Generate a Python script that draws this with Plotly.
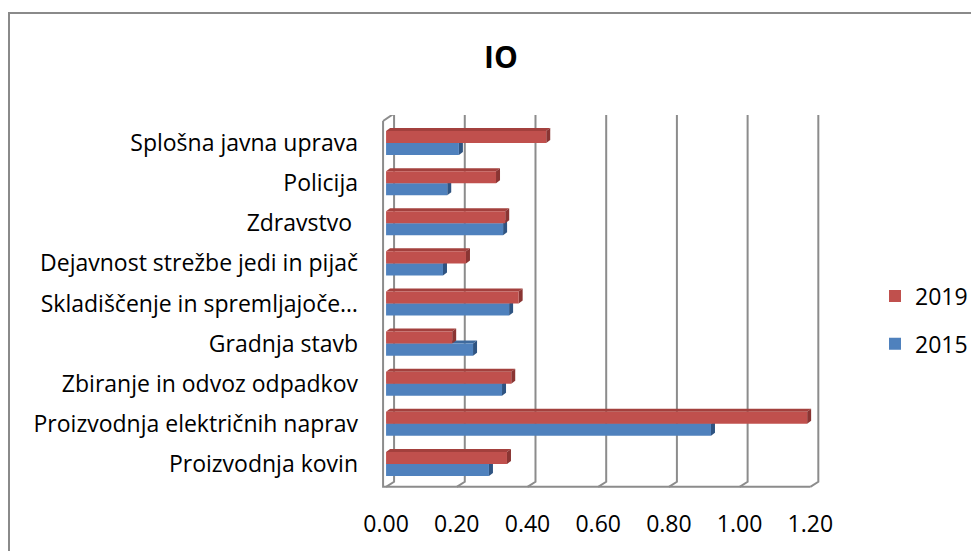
import plotly.graph_objects as go

# ---------------- data ----------------
categories = [
    "Proizvodnja kovin",
    "Proizvodnja električnih naprav",
    "Zbiranje in odvoz odpadkov",
    "Gradnja stavb",
    "Skladiščenje in spremljajoče…",
    "Dejavnost strežbe jedi in pijač",
    "Zdravstvo ",
    "Policija",
    "Splošna javna uprava",
]
v2015 = [0.291, 0.919, 0.328, 0.246, 0.348, 0.161, 0.331, 0.173, 0.206]
v2019 = [0.342, 1.191, 0.354, 0.187, 0.375, 0.226, 0.337, 0.311, 0.453]
tick_vals = [0.0, 0.2, 0.4, 0.6, 0.8, 1.0, 1.2]

# ---------------- style ----------------
# the page body has an 8px margin, so the figure is a bit smaller than the window
OFF = 8
W, H = 979 - OFF, 551 - OFF
ML, MR, MT, MB = 379 - OFF, 151, 115 - OFF, 63
XR = [-0.02, 1.25]
YR = [-0.6, 8.7]
PXX = (W - ML - MR) / (XR[1] - XR[0])   # px per x unit
PXY = (H - MT - MB) / (YR[1] - YR[0])   # px per category

RED, RED_TOP, RED_SIDE = "#C0504D", "#A3403D", "#8A3533"
BLUE, BLUE_TOP, BLUE_SIDE = "#4F81BD", "#3E6A9E", "#2F5482"
GRID = "#8C8C8C"
FONT = "'Open Sans', Calibri, sans-serif"

BARGAP = 0.4
BW = (1 - BARGAP) / 2
# depth of walls and bars (pixels -> data units)
WX, WY = 8 / PXX, 5 / PXY
BX, BY = 4 / PXX, 3 / PXY
FLOOR = -0.57
TOP_FRONT = 8.55
TOP_BACK = TOP_FRONT + 2.5 / PXY + WY

fig = go.Figure()
fig.add_trace(go.Bar(y=categories, x=v2015, name="2015", orientation="h",
                     marker=dict(color=BLUE, line=dict(width=0)),
                     legendgroup="a", legendrank=2))
fig.add_trace(go.Bar(y=categories, x=v2019, name="2019", orientation="h",
                     marker=dict(color=RED, line=dict(width=0)),
                     legendgroup="b", legendrank=1))

shapes = []
line = dict(color=GRID, width=2)
# back wall gridlines with a diagonal down to the front floor
for v in tick_vals:
    shapes.append(dict(type="path", xref="x", yref="y", layer="below", line=line,
                       path=f"M{v+WX},{TOP_BACK} L{v+WX},{FLOOR+WY} L{v},{FLOOR}"))
# floor front edge and left wall front edge
x_left = -3 / PXX
shapes.append(dict(type="path", xref="x", yref="y", layer="below", line=line,
                   path=f"M{x_left},{TOP_FRONT} L{x_left},{FLOOR} L{tick_vals[-1]},{FLOOR}"))
shapes.append(dict(type="path", xref="x", yref="y", layer="below", line=line,
                   path=f"M{x_left},{TOP_FRONT} L{WX},{TOP_BACK}"))

# 3D faces of the bars
for i in range(len(categories)):
    for val, y0, top, side in ((v2015[i], i - BW, BLUE_TOP, BLUE_SIDE),
                               (v2019[i], i, RED_TOP, RED_SIDE)):
        y1 = y0 + BW
        shapes.append(dict(type="path", xref="x", yref="y", layer="below",
                           fillcolor=top, line=dict(width=0),
                           path=f"M0,{y1} L{BX},{y1+BY} L{val+BX},{y1+BY} L{val},{y1} Z"))
        shapes.append(dict(type="path", xref="x", yref="y", layer="below",
                           fillcolor=side, line=dict(width=0),
                           path=f"M{val},{y0} L{val+BX},{y0+BY} L{val+BX},{y1+BY} L{val},{y1} Z"))

# chart border (top and left only are visible); args are window pixels
def px_x(p):
    return (p - OFF - ML) / (W - ML - MR)

def px_y(p):
    return (H - MB - (p - OFF)) / (H - MT - MB)

shapes.append(dict(type="path", xref="paper", yref="paper", layer="above",
                   line=dict(color="#8A8A8A", width=2),
                   path=f"M{px_x(9)},{px_y(560)} L{px_x(9)},{px_y(13)} L{px_x(990)},{px_y(13)}"))

fig.update_layout(
    width=W, height=H,
    margin=dict(l=ML, r=MR, t=MT, b=MB, autoexpand=False),
    paper_bgcolor="white", plot_bgcolor="white",
    font=dict(family=FONT, size=23, color="#000000"),
    barmode="group", bargap=BARGAP, bargroupgap=0,
    title=dict(text="<b>IO</b>", x=(501 - OFF) / W, xanchor="center",
               y=1 - (57 - OFF) / H, yanchor="middle", yref="container",
               font=dict(family=FONT, size=30, color="#000000")),
    showlegend=True,
    legend=dict(x=(875 - OFF) / W, xref="container", xanchor="left",
                y=1 - (320 - OFF) / H, yref="container", yanchor="middle",
                traceorder="grouped", tracegroupgap=15,
                font=dict(size=23), bgcolor="rgba(0,0,0,0)"),
    shapes=shapes,
)
fig.update_xaxes(range=XR, tickvals=tick_vals, tickformat=".2f", showgrid=False,
                 zeroline=False, showline=False, ticks="", ticklabelstandoff=20,
                 automargin=False)
fig.update_yaxes(range=YR, type="category", showgrid=False, zeroline=False,
                 showline=False, ticks="", ticklabelstandoff=20, automargin=False)

fig.write_html("out.html")
